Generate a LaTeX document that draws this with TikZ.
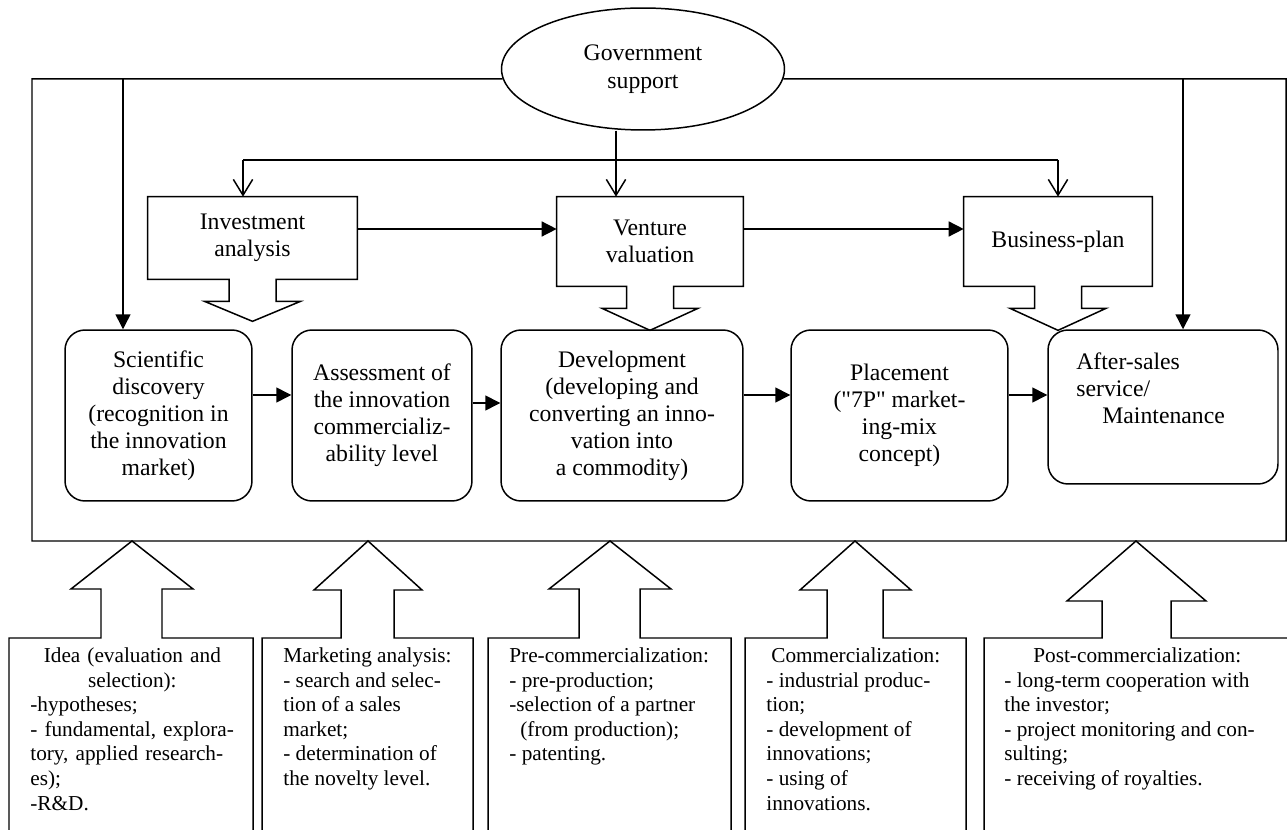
\documentclass[tikz,border=0pt]{standalone}
\usepackage{fontspec}
\setmainfont{Liberation Serif}
\usetikzlibrary{calc,arrows.meta,shapes.geometric}
\tikzset{
  outl/.style={draw=black, line width=0.85pt, line join=miter},
  flow/.style={outl, -{Triangle[length=8.5pt,width=8.5pt]}},
  supply/.style={outl, -{Straight Barb[length=9pt,width=11pt]}},
  govt/.style={ellipse, outl, minimum width=5.66cm, minimum height=2.44cm, align=center, font=\fontsize{13.5}{15.9}\selectfont},
  stage/.style={outl, rounded corners=0.4cm, minimum height=3.42cm, align=center, font=\fontsize{13.5}{15.4}\selectfont},
  tool/.style={minimum height=1.78cm, align=center, font=\fontsize{13.5}{15.4}\selectfont},
  notes/.style={inner sep=0pt, align=left, anchor=north west, font=\fontsize{12.1}{14}\selectfont},
}
\begin{document}
\begin{tikzpicture}[x=0.02cm, y=-0.02cm]
  \useasboundingbox (0,0) rectangle (1287,830);

  % government support and the outer frame
  \node[govt] (gov) at (643,69) {Government\\support};
  \draw[outl] (gov.184) -- (32,79) -- (32,541) -- (1286,541) -- (1286,79) -- (gov.356);

  % analysis tools
  \node[tool, minimum width=4.18cm, minimum height=1.64cm] (inv) at (252.5,238) {Investment\\analysis};
  \node[tool, minimum width=3.72cm] (ven) at (650,241.5) {Venture\\valuation};
  \node[tool, minimum width=3.76cm] (bus) at (1058,241.5) {Business-plan};
  \foreach \n/\d in {inv/42,ven/44,bus/44}{
    \draw[outl] (\n.north west) -- (\n.north east) -- (\n.south east)
      -- ($(\n.south)+(23.5,0)$) -- ($(\n.south)+(23.5,22)$) -- ($(\n.south)+(48,22)$)
      -- ($(\n.south)+(0,\d)$)
      -- ($(\n.south)+(-48,22)$) -- ($(\n.south)+(-23.5,22)$) -- ($(\n.south)+(-23.5,0)$)
      -- (\n.south west) -- cycle;
  }
  \draw[flow] (inv.east |- 0,229) -- (ven.west |- 0,229);
  \draw[flow] (ven.east |- 0,229) -- (bus.west |- 0,229);

  % stages
  \node[stage, minimum width=3.74cm] (sci) at (158.5,415.5) {Scientific\\discovery\\(recognition in\\the innovation\\market)};
  \node[stage, minimum width=3.6cm] (ass) at (382,415.5) {Assessment of\\the innovation\\commercializ-\\ability level};
  \node[stage, minimum width=4.84cm] (dev) at (622,415.5) {Development\\(developing and\\converting an inno-\\vation into\\a commodity)};
  \node[stage, minimum width=4.34cm] (pla) at (899.5,415.5) {Placement\\(\textquotedbl 7P\textquotedbl{} market-\\ing-mix\\concept)};
  \node[stage, minimum width=4.6cm, minimum height=3.08cm] (aft) at (1163,407) {};
  \node[notes, font=\fontsize{13.5}{15.4}\selectfont] (aftlab) at (1076,352) {After-sales\\service/\\\hspace*{0.52cm}Maintenance};
  \draw[flow] (sci.east |- 0,395) -- (ass.west |- 0,395);
  \draw[flow] (ass.east |- 0,403) -- (dev.west |- 0,403);
  \draw[flow] (dev.east |- 0,395) -- (pla.west |- 0,395);
  \draw[flow] (pla.east |- 0,395) -- (aft.west |- 0,395);

  % support lines
  \coordinate (sup1) at (123,79);
  \coordinate (sup2) at (1183,79);
  \coordinate (gs) at ($(gov.south)+(-27,0)$);
  \coordinate (dl) at (243,160);
  \coordinate (dr) at (1058,160);
  \draw[flow] (sup1) -- (sup1 |- sci.north);
  \draw[flow] (sup2) -- (sup2 |- aft.north);
  \draw[supply] (gs) -- (gs |- ven.north);
  \draw[outl] (dl) -- (dr);
  \draw[supply] (dl) -- (dl |- inv.north);
  \draw[supply] (dr) -- (dr |- bus.north);

  % phases below with their arrows
  \foreach \bl/\br/\sl/\sr/\wl/\wr/\wy/\tx in {9/253/101/162/71/193/589/132,
      262/473/341/394/314/422/590/368, 488/731/579/640/549/671/589/610,
      745/966/827/883/800/911/590/855, 984/1300/1102/1171/1067/1206/601/1136}
    \draw[outl] (\bl,840) -- (\bl,638) -- (\sl,638) -- (\sl,\wy) -- (\wl,\wy) -- (\tx,541)
      -- (\wr,\wy) -- (\sr,\wy) -- (\sr,638) -- (\br,638) -- (\br,840);

  \node[notes, text width=4.08cm] (idea) at (30,647.5) {{\centering Idea (evaluation and\\selection):\par}-hypotheses;\\- fundamental, explora-\\tory, applied research-\\es);\\-R\&D.};
  \node[notes] (mkt) at (283,647.5) {Marketing analysis:\\- search and selec-\\tion of a sales\\market;\\- determination of\\the novelty level.};
  \node[notes] (pre) at (509,647.5) {Pre-commercialization:\\- pre-production;\\-selection of a partner\\\hspace*{0.22cm}(from production);\\- patenting.};
  \node[notes] (com) at (766,647.5) {\hspace*{0.1cm}Commercialization:\\- industrial produc-\\tion;\\- development of\\innovations;\\- using of\\innovations.};
  \node[notes] (post) at (1004,647.5) {\hspace*{0.58cm}Post-commercialization:\\- long-term cooperation with\\the investor;\\- project monitoring and con-\\sulting;\\- receiving of royalties.};
\end{tikzpicture}
\end{document}
